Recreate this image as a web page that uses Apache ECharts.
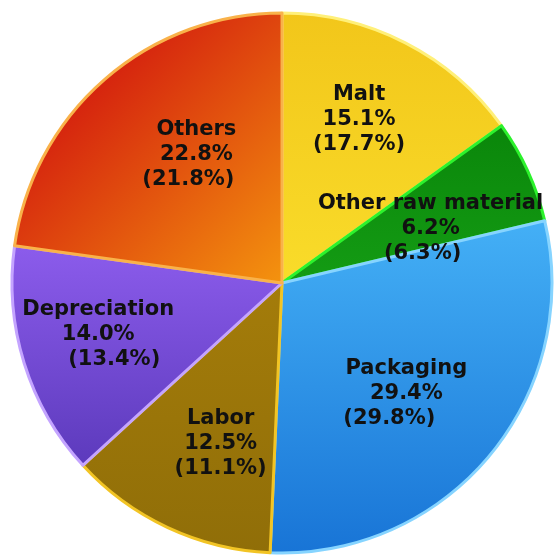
<!DOCTYPE html>
<html>
<head>
<meta charset="utf-8">
<script src="https://cdn.jsdelivr.net/npm/echarts@6/dist/echarts.min.js"></script>
<style>
  html, body { margin: 0; padding: 0; background: #fff; }
  #chart { width: 558px; height: 558px; }
</style>
</head>
<body>
<div id="chart"></div>
<script>
// cost breakdown, current share and previous share in brackets
const categories = ['Malt', 'Other raw material', 'Packaging', 'Labor', 'Depreciation', 'Others']
const currentShare = [15.1, 6.2, 29.4, 12.5, 14.0, 22.8]
const previousShare = [17.7, 6.3, 29.8, 11.1, 13.4, 21.8]

// slice looks: gradient start / end and a lighter rim
const fillFrom = ['#f2c61a', '#0a860a', '#44b0f6', '#a47c0a', '#8c5cec', '#d6260e']
const fillTo = ['#f9dc2a', '#149c14', '#1874d6', '#906e08', '#5c3abc', '#f4940e']
const rimColor = ['#fff07a', '#2cf22c', '#86d4ff', '#f2c424', '#c4a4ff', '#f9b24a']
const gradDir = [[0, 0, 0, 1], [0, 0, 0, 1], [0, 0, 0, 1], [0, 0, 0, 1], [0, 0, 0, 1], [0, 0, 1, 1]]
const gradMid = [0, 0, 0, 0, 0, 0.3]

// label nudges from the default inside spot, and shift of the bracket line
const labelDx = [14, 23, 18, -3, -52, 5]
const labelDy = [-41, 3, 23, 35, 11, -24]
const bracketShift = [0, -8, -17, 0, 16, -8]

const chart = echarts.init(document.getElementById('chart'))

const font = { fontFamily: 'DejaVu Sans', fontWeight: 'bold', fontSize: 21, color: '#111', lineHeight: 25 }

const seriesData = categories.map((name, i) => {
  const s = bracketShift[i]
  return {
    name,
    value: currentShare[i],
    itemStyle: {
      color: new echarts.graphic.LinearGradient(...gradDir[i], [
        { offset: 0, color: fillFrom[i] },
        { offset: gradMid[i], color: fillFrom[i] },
        { offset: 1, color: fillTo[i] }
      ]),
      borderColor: rimColor[i]
    },
    label: {
      formatter: `{a|${name}}\n{b|${currentShare[i].toFixed(1)}%}\n{c|(${previousShare[i].toFixed(1)}%)}`,
      rich: {
        a: { ...font },
        b: { ...font },
        c: { ...font, padding: s > 0 ? [0, 0, 0, 2 * s] : [0, -2 * s, 0, 0] }
      }
    }
  }
})

chart.setOption({
  backgroundColor: '#fff',
  animation: false,
  series: [{
    type: 'pie',
    center: [282, 283],
    radius: [0, 270],
    startAngle: 90,
    clockwise: true,
    avoidLabelOverlap: false,
    itemStyle: { borderWidth: 3 },
    label: { show: true, position: 'inside', align: 'center', ...font },
    labelLine: { show: false },
    labelLayout: (params) => ({ dx: labelDx[params.dataIndex], dy: labelDy[params.dataIndex] }),
    emphasis: { disabled: true },
    data: seriesData
  }]
})

window.addEventListener('resize', () => chart.resize())
</script>
</body>
</html>
